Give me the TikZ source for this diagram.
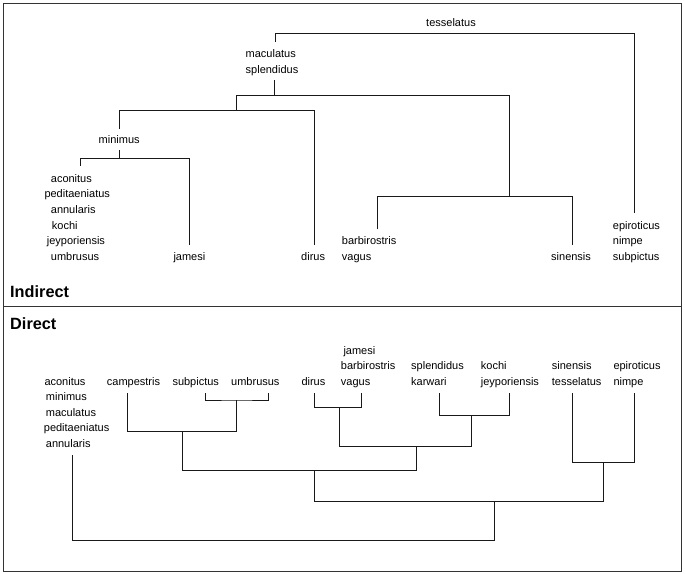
\documentclass[tikz,border=0pt]{standalone}
\usepackage{fontspec}
\setmainfont{Liberation Sans}
\begin{document}
\begin{tikzpicture}[x=1pt,y=-1pt,
  lbl/.style={font=\fontsize{11}{13}\selectfont, inner sep=0pt, text height=8pt, text depth=0pt, anchor=west},
  clbl/.style={lbl, anchor=center},
  ttl/.style={font=\bfseries\fontsize{16.3}{18}\selectfont, inner sep=0pt, anchor=base west},
  br/.style={line width=1pt, draw=black!90},
  frame/.style={line width=0.9pt, draw=black!80}]
\useasboundingbox (0,0) rectangle (685,574);
\draw[frame] (3,3) rectangle (681,571);
\draw[frame] (3,306) -- (681,306);

% ---------------- Indirect ----------------
\node[ttl] (tInd) at (10,297) {Indirect};
\node[clbl] (tes) at (451,22.7) {tesselatus};
\node[lbl] (mac) at (245.5,53.7) {maculatus};
\node[lbl] (spl) at (245.5,69.3) {splendidus};
\node[lbl] (min) at (98.5,139.3) {minimus};
\node[lbl] (aco) at (50.7,178) {aconitus};
\node[lbl] (ped) at (44.3,193.7) {peditaeniatus};
\node[lbl] (ann) at (50.7,209.3) {annularis};
\node[lbl] (koc) at (51.7,225) {kochi};
\node[lbl] (jey) at (46.7,240.7) {jeyporiensis};
\node[lbl] (umb) at (50.7,256.3) {umbrusus};
\node[lbl] (jam) at (173.3,256.3) {jamesi};
\node[lbl] (dir) at (301,256.3) {dirus};
\node[lbl] (bar) at (341.7,240.7) {barbirostris};
\node[lbl] (vag) at (341.7,256.3) {vagus};
\node[lbl] (sin) at (551,256.3) {sinensis};
\node[lbl] (epi) at (612.7,225) {epiroticus};
\node[lbl] (nim) at (612.7,240.7) {nimpe};
\node[lbl] (sub) at (612.7,256.3) {subpictus};

\coordinate (iAL) at (275.2,41.7);
\coordinate (iAR) at (634.3,213.3);
\coordinate (iAJ) at (455,33.3);
\coordinate (iBtop) at (274.3,80);
\coordinate (iBJ) at (274.3,95.7);
\coordinate (iCJ) at (236.3,110.7);
\coordinate (iCL) at (119.5,128.5);
\coordinate (iCR) at (314.4,245);
\coordinate (iEtop) at (119.8,150);
\coordinate (iEJ) at (119.8,158.3);
\coordinate (iEL) at (80.2,166);
\coordinate (iER) at (189.8,245);
\coordinate (iDJ) at (509.7,196.7);
\coordinate (iDL) at (377.7,229);
\coordinate (iDR) at (572.3,244.5);

\draw[br] (iAL) |- (iAJ) -| (iAR);
\draw[br] (iBtop) -- (iBJ);
\draw[br] (iCJ) |- (iBJ) -| (iDJ);
\draw[br] (iCL) |- (iCJ) -| (iCR);
\draw[br] (iEtop) -- (iEJ);
\draw[br] (iEL) |- (iEJ) -| (iER);
\draw[br] (iDL) |- (iDJ) -| (iDR);

% ---------------- Direct ----------------
\node[ttl] (tDir) at (10,329.3) {Direct};
\node[lbl] (daco) at (44.3,381) {aconitus};
\node[lbl] (dmin) at (45.7,396.7) {minimus};
\node[lbl] (dmac) at (45.7,412.3) {maculatus};
\node[lbl] (dped) at (43.7,427.7) {peditaeniatus};
\node[lbl] (dann) at (45.7,443.3) {annularis};
\node[lbl] (dcam) at (106.7,381) {campestris};
\node[lbl] (dsub) at (172.3,381) {subpictus};
\node[lbl] (dumb) at (231,381) {umbrusus};
\node[lbl] (ddir) at (301.3,381) {dirus};
\node[lbl] (djam) at (343.3,350) {jamesi};
\node[lbl] (dbar) at (340.7,365.7) {barbirostris};
\node[lbl] (dvag) at (340.7,381) {vagus};
\node[lbl] (dspl) at (411,365.7) {splendidus};
\node[lbl] (dkar) at (411,381) {karwari};
\node[lbl] (dkoc) at (480.7,365.7) {kochi};
\node[lbl] (djey) at (480.7,381) {jeyporiensis};
\node[lbl] (dsin) at (551.7,365.7) {sinensis};
\node[lbl] (dtes) at (551.7,381) {tesselatus};
\node[lbl] (depi) at (613.3,365.7) {epiroticus};
\node[lbl] (dnim) at (613.3,381) {nimpe};

\coordinate (dSL) at (205.7,393.3);
\coordinate (dSR) at (268.3,393.3);
\coordinate (dSJ) at (236.7,400);
\coordinate (dCL) at (127.3,393.3);
\coordinate (dCJ) at (182.3,431);
\coordinate (dDL) at (314.7,393.3);
\coordinate (dDR) at (361.7,393.3);
\coordinate (dDJ) at (339,407.3);
\coordinate (dKL) at (439.7,393.3);
\coordinate (dKR) at (509.3,393.3);
\coordinate (dKJ) at (471,415.3);
\coordinate (dMJ) at (416.3,446.7);
\coordinate (dXJ) at (314.7,470);
\coordinate (dEL) at (572.3,393.3);
\coordinate (dER) at (634,393.3);
\coordinate (dEJ) at (603.3,462.3);
\coordinate (dYJ) at (494.3,501.3);
\coordinate (dAL) at (72.7,455);
\coordinate (dZJ) at (280,540);

\draw[br] (dSL) |- (dSJ) -| (dSR);
\draw[br] (dCL) |- (dCJ) -| (dSJ);
\draw[br] (dDL) |- (dDJ) -| (dDR);
\draw[br] (dKL) |- (dKJ) -| (dKR);
\draw[br] (dDJ) |- (dMJ) -| (dKJ);
\draw[br] (dCJ) |- (dXJ) -| (dMJ);
\draw[br] (dEL) |- (dEJ) -| (dER);
\draw[br] (dXJ) |- (dYJ) -| (dEJ);
\draw[br] (dAL) |- (dZJ) -| (dYJ);
\end{tikzpicture}
\end{document}
